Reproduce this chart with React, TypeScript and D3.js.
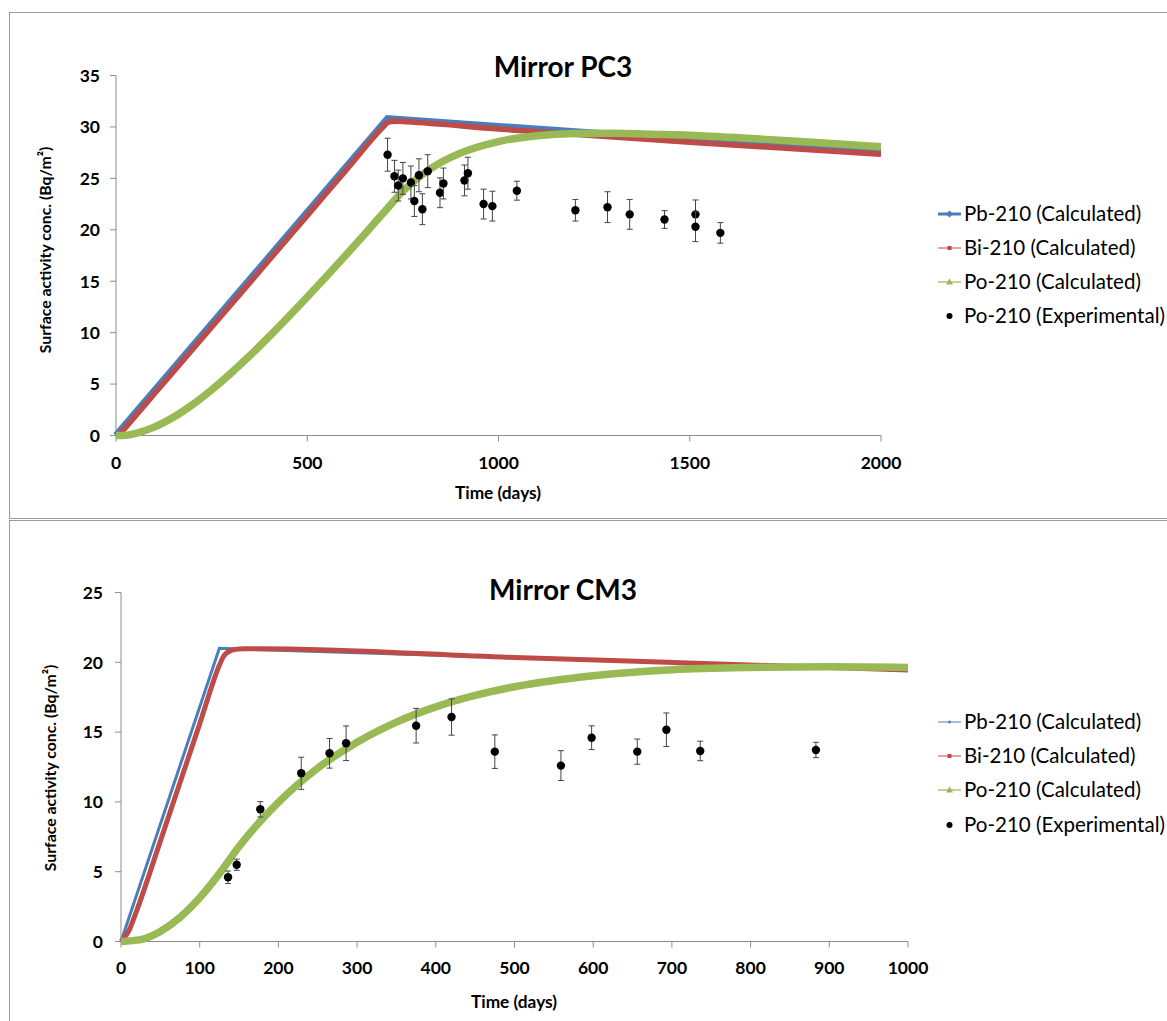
import React from "react";
import * as d3 from "d3";

// ---------- Data: Mirror PC3 ----------
const pc3PbDays = [0, 710, 1000, 1500, 2000];
const pc3PbValues = [0, 30.8, 30.05, 28.75, 27.55];

const pc3BiDays = [0, 10, 20, 50, 100, 200, 300, 400, 500, 600, 700, 710, 720, 735, 760, 1000, 1500, 2000];
const pc3BiValues = [0, 0.2, 0.57, 1.86, 4.03, 8.36, 12.7, 17.04, 21.38, 25.72, 30.05, 30.42, 30.52, 30.55, 30.5, 29.8, 28.5, 27.35];

const pc3PoDays = [0, 25, 50, 100, 150, 200, 250, 300, 350, 400, 450, 500, 550, 600, 650, 710, 750, 800, 850, 900, 1000, 1100, 1200, 1300, 1400, 1500, 1600, 1700, 1800, 1900, 2000];
const pc3PoValues = [0, 0.03, 0.19, 0.81, 1.77, 3.0, 4.44, 6.04, 7.77, 9.6, 11.5, 13.46, 15.46, 17.5, 19.57, 22.1, 23.75, 25.36, 26.56, 27.45, 28.58, 29.14, 29.36, 29.39, 29.29, 29.2, 29.0, 28.79, 28.55, 28.31, 28.07];

const pc3ExpDays = [710, 728, 738, 750, 771, 780, 792, 801, 815, 847, 856, 911, 920, 961, 984, 1048, 1201, 1285, 1343, 1434, 1515, 1515, 1580];
const pc3ExpValues = [27.3, 25.2, 24.3, 25.0, 24.6, 22.8, 25.3, 22.0, 25.7, 23.6, 24.5, 24.8, 25.5, 22.5, 22.3, 23.8, 21.9, 22.2, 21.5, 21.0, 21.5, 20.3, 19.7];
const pc3ExpErrors = [1.6, 1.55, 1.5, 1.55, 1.6, 1.5, 1.6, 1.5, 1.6, 1.45, 1.5, 1.5, 1.55, 1.45, 1.45, 0.92, 1.05, 1.5, 1.45, 0.86, 1.4, 1.45, 1.0];

const pc3XTicks = [0, 500, 1000, 1500, 2000];
const pc3YTicks = [0, 5, 10, 15, 20, 25, 30, 35];

// ---------- Data: Mirror CM3 ----------
const cm3PbDays = [0, 125, 500, 750, 1000];
const cm3PbValues = [0, 21.0, 20.34, 19.91, 19.49];

const cm3BiDays = [0, 10, 20, 50, 100, 125, 130, 140, 150, 175, 500, 750, 1000];
const cm3BiValues = [0, 0.77, 2.22, 7.19, 15.59, 19.79, 20.4, 20.85, 20.96, 20.97, 20.34, 19.9, 19.45];

const cm3PoDays = [0, 25, 50, 75, 100, 125, 150, 175, 200, 250, 300, 350, 400, 450, 500, 600, 700, 800, 900, 1000];
const cm3PoValues = [0, 0.13, 0.72, 1.73, 3.13, 4.86, 6.8, 8.49, 9.97, 12.42, 14.28, 15.72, 16.81, 17.63, 18.25, 19.04, 19.47, 19.63, 19.68, 19.63];

const cm3ExpDays = [136, 147, 177, 229, 265, 286, 375, 420, 475, 559, 598, 656, 693, 736, 883];
const cm3ExpValues = [4.6, 5.5, 9.47, 12.05, 13.48, 14.2, 15.46, 16.08, 13.6, 12.6, 14.6, 13.6, 15.17, 13.65, 13.72];
const cm3ExpErrors = [0.45, 0.4, 0.55, 1.15, 1.06, 1.24, 1.24, 1.3, 1.2, 1.07, 0.85, 0.9, 1.2, 0.7, 0.55];

const cm3XTicks = [0, 100, 200, 300, 400, 500, 600, 700, 800, 900, 1000];
const cm3YTicks = [0, 5, 10, 15, 20, 25];

const legendLabels = ["Pb-210 (Calculated)", "Bi-210 (Calculated)", "Po-210 (Calculated)", "Po-210 (Experimental)"];

const FONT = "Lato, 'Open Sans', sans-serif";
const BLUE = "#4A7EBB";
const RED = "#BE4B48";
const GREEN = "#98B954";
const AXIS = "#8c8c8c";

type Series = { days: number[]; values: number[] };

type PanelProps = {
  title: string;
  titleY: number;
  x0: number; x1: number; y0: number; y1: number;
  xMax: number; yMax: number;
  xTicks: number[]; yTicks: number[];
  pb: Series; bi: Series; po: Series;
  exp: { days: number[]; values: number[]; errors: number[] };
  pbWidth: number;
  biWidth: number;
  ytitleX: number; ytitleY: number;
  xtitleX: number; xtitleY: number;
  xLabelY: number; yLabelX: number;
  legendYs: number[];
  legendPbWidth: number;
};

function Panel(p: PanelProps) {
  const x = d3.scaleLinear().domain([0, p.xMax]).range([p.x0, p.x1]);
  const y = d3.scaleLinear().domain([0, p.yMax]).range([p.y0, p.y1]);
  const mk = (s: Series, curve: d3.CurveFactory) =>
    d3.line<number>().x((_, i) => x(s.days[i])).y((v) => y(v)).curve(curve)(s.values) || "";
  const pbPath = mk(p.pb, d3.curveLinear);
  const biPath = mk(p.bi, d3.curveMonotoneX);
  const poPath = mk(p.po, d3.curveMonotoneX);
  const lx0 = 938, lx1 = 961, lmx = 949.5, ltx = 964;
  return (
    <g>
      <text x={563} y={p.titleY} textAnchor="middle" fontFamily={FONT} fontWeight={700} fontSize={28} fill="#000">{p.title}</text>
      {/* axes */}
      <line x1={p.x0} x2={p.x0} y1={p.y0} y2={p.y1} stroke={AXIS} strokeWidth={1} />
      <line x1={p.x0} x2={p.x1} y1={p.y0} y2={p.y0} stroke={AXIS} strokeWidth={1} />
      {p.yTicks.map((t) => (
        <g key={"y" + t}>
          <line x1={p.x0 - 6} x2={p.x0} y1={y(t)} y2={y(t)} stroke={AXIS} />
          <text x={p.yLabelX} y={y(t)} dy="0.36em" textAnchor="end" fontFamily={FONT} fontWeight={700} fontSize={17.5} fill="#000">{t}</text>
        </g>
      ))}
      {p.xTicks.map((t) => (
        <g key={"x" + t}>
          <line x1={x(t)} x2={x(t)} y1={p.y0} y2={p.y0 + 6} stroke={AXIS} />
          <text x={x(t)} y={p.xLabelY} dy="0.36em" textAnchor="middle" fontFamily={FONT} fontWeight={700} fontSize={17.5} fill="#000">{t}</text>
        </g>
      ))}
      <text transform={`translate(${p.ytitleX},${p.ytitleY}) rotate(-90)`} textAnchor="middle" dy="0.35em" fontFamily={FONT} fontWeight={700} fontSize={15.8} fill="#000">
        Surface activity conc. (Bq/m²)
      </text>
      <text x={p.xtitleX} y={p.xtitleY} dy="0.35em" textAnchor="middle" fontFamily={FONT} fontWeight={700} fontSize={17.3} fill="#000">Time (days)</text>
      {/* series */}
      <path d={pbPath} fill="none" stroke={BLUE} strokeWidth={p.pbWidth} strokeLinejoin="miter" />
      <path d={biPath} fill="none" stroke={RED} strokeWidth={p.biWidth} strokeLinejoin="round" />
      <path d={poPath} fill="none" stroke={GREEN} strokeWidth={7.5} strokeLinejoin="round" />
      {p.exp.days.map((d, i) => {
        const cx = x(d);
        const cy = y(p.exp.values[i]);
        const yt = y(p.exp.values[i] + p.exp.errors[i]);
        const yb = y(p.exp.values[i] - p.exp.errors[i]);
        return (
          <g key={"e" + i}>
            <line x1={cx} x2={cx} y1={yt} y2={yb} stroke="#444" strokeWidth={1} />
            <line x1={cx - 3} x2={cx + 3} y1={yt} y2={yt} stroke="#444" strokeWidth={1} />
            <line x1={cx - 3} x2={cx + 3} y1={yb} y2={yb} stroke="#444" strokeWidth={1} />
            <circle cx={cx} cy={cy} r={4.2} fill="#000" />
          </g>
        );
      })}
      {/* legend */}
      <g>
        <line x1={lx0} x2={lx1} y1={p.legendYs[0]} y2={p.legendYs[0]} stroke={BLUE} strokeWidth={p.legendPbWidth} />
        <path d={`M${lmx},${p.legendYs[0] - 3.5}L${lmx + 3.5},${p.legendYs[0]}L${lmx},${p.legendYs[0] + 3.5}L${lmx - 3.5},${p.legendYs[0]}Z`} fill={BLUE} transform={p.legendPbWidth < 2 ? `translate(${lmx},${p.legendYs[0]}) scale(0.5) translate(${-lmx},${-p.legendYs[0]})` : undefined} />
        <line x1={lx0} x2={lx1} y1={p.legendYs[1]} y2={p.legendYs[1]} stroke={RED} strokeWidth={1} />
        <rect x={lmx - 2} y={p.legendYs[1] - 2} width={4} height={4} fill={RED} />
        <line x1={lx0} x2={lx1} y1={p.legendYs[2]} y2={p.legendYs[2]} stroke={GREEN} strokeWidth={1.2} />
        <path d={`M${lmx},${p.legendYs[2] - 3.5}L${lmx + 3.5},${p.legendYs[2] + 2.5}L${lmx - 3.5},${p.legendYs[2] + 2.5}Z`} fill={GREEN} />
        <circle cx={lmx} cy={p.legendYs[3]} r={3} fill="#000" />
        {legendLabels.map((l, i) => (
          <text key={l} x={ltx} y={p.legendYs[i]} dy="0.35em" fontFamily={FONT} fontSize={20.5} fill="#000">{l}</text>
        ))}
      </g>
    </g>
  );
}

export default function App() {
  return (
    <svg width={1167} height={1021} style={{ position: "absolute", left: 0, top: 0, display: "block", background: "#fff" }}>
      <rect x={0} y={0} width={1167} height={1021} fill="#fff" />
      <rect x={9.5} y={12.5} width={1200} height={506} fill="none" stroke="#9a9a9a" strokeWidth={1} />
      <rect x={9.5} y={520.5} width={1200} height={600} fill="none" stroke="#9a9a9a" strokeWidth={1} />
      <Panel
        title="Mirror PC3" titleY={77}
        x0={116} x1={881} y0={435.5} y1={75.5}
        xMax={2000} yMax={35}
        xTicks={pc3XTicks} yTicks={pc3YTicks}
        pb={{ days: pc3PbDays, values: pc3PbValues }}
        bi={{ days: pc3BiDays, values: pc3BiValues }}
        po={{ days: pc3PoDays, values: pc3PoValues }}
        exp={{ days: pc3ExpDays, values: pc3ExpValues, errors: pc3ExpErrors }}
        pbWidth={7}
        biWidth={5.5}
        ytitleX={45} ytitleY={250}
        xtitleX={498} xtitleY={493}
        xLabelY={463} yLabelX={100}
        legendYs={[214, 248, 282, 316]}
        legendPbWidth={3}
      />
      <Panel
        title="Mirror CM3" titleY={600}
        x0={121} x1={908} y0={941.5} y1={592.5}
        xMax={1000} yMax={25}
        xTicks={cm3XTicks} yTicks={cm3YTicks}
        pb={{ days: cm3PbDays, values: cm3PbValues }}
        bi={{ days: cm3BiDays, values: cm3BiValues }}
        po={{ days: cm3PoDays, values: cm3PoValues }}
        exp={{ days: cm3ExpDays, values: cm3ExpValues, errors: cm3ExpErrors }}
        pbWidth={3}
        biWidth={5}
        ytitleX={50} ytitleY={768}
        xtitleX={514} xtitleY={1002}
        xLabelY={968} yLabelX={103}
        legendYs={[722, 756, 790, 825]}
        legendPbWidth={1}
      />
    </svg>
  );
}
